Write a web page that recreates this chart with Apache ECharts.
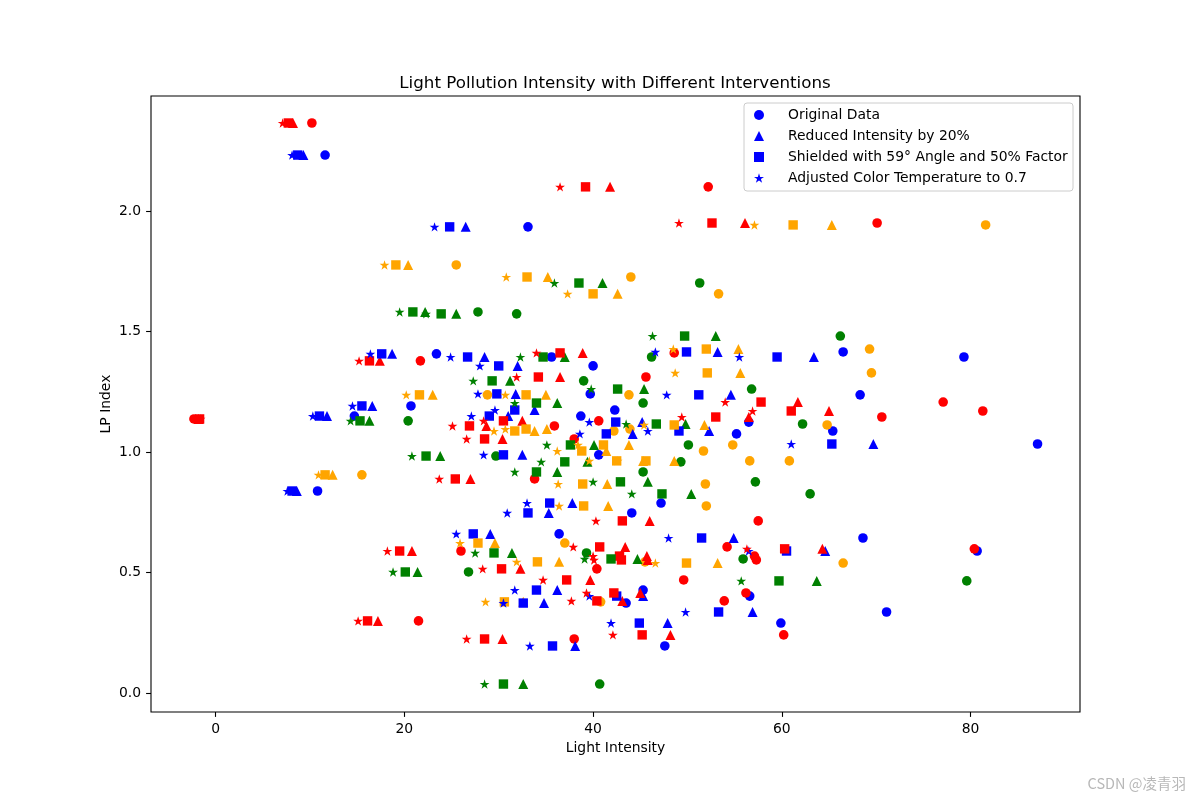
<!DOCTYPE html>
<html>
<head>
<meta charset="utf-8">
<title>Light Pollution Intensity with Different Interventions</title>
<script src="https://cdn.jsdelivr.net/npm/echarts@6/dist/echarts.min.js"></script>
<style>
  html, body { margin: 0; padding: 0; background: #fff; }
  #chart { width: 1200px; height: 800px; }
</style>
</head>
<body>
<div id="chart"></div>
<script>
// one entry per sample point, same order in every array
const lpIndex = [
  2.232, 1.934, 1.407, 1.394, 1.357, 1.415, 1.394, 1.241, 1.237, 1.174, 1.191, 1.149, 1.149, 1.124, 1.075,
  1.087, 1.033, 0.988, 0.838, 0.788, 0.747, 0.660, 0.643, 0.589, 0.427, 0.373, 0.402, 0.336, 0.290, 0.195,
  2.365, 2.100, 1.950, 1.378, 1.411, 1.311, 1.207, 1.170, 1.145, 1.129, 1.108, 1.137, 1.054, 0.888,
  0.714, 0.606, 0.598, 0.589, 0.568, 0.552, 0.515, 0.469, 0.415, 0.382, 0.299, 0.224, 0.241,
  1.942, 1.776, 1.726, 1.656, 1.427, 1.328, 1.237, 1.237, 1.112, 1.095, 1.087,
  1.029, 1.004, 0.963, 0.963, 0.905, 0.867, 0.776, 0.622, 0.539, 0.544, 0.378,
  1.701, 1.581, 1.573, 1.481, 1.394, 1.295, 1.261, 1.203, 1.129, 1.116, 1.029,
  0.983, 0.959, 0.917, 0.876, 0.826, 0.581, 0.502, 0.556, 0.465, 0.037
];
const pointColor = [
  'blue', 'blue', 'blue', 'blue', 'blue', 'blue', 'blue', 'blue', 'blue', 'blue', 'blue', 'blue', 'blue', 'blue', 'blue',
  'blue', 'blue', 'blue', 'blue', 'blue', 'blue', 'blue', 'blue', 'blue', 'blue', 'blue', 'blue', 'blue', 'blue', 'blue',
  'red', 'red', 'red', 'red', 'red', 'red', 'red', 'red', 'red', 'red', 'red', 'red', 'red', 'red',
  'red', 'red', 'red', 'red', 'red', 'red', 'red', 'red', 'red', 'red', 'red', 'red', 'red',
  'orange', 'orange', 'orange', 'orange', 'orange', 'orange', 'orange', 'orange', 'orange', 'orange', 'orange',
  'orange', 'orange', 'orange', 'orange', 'orange', 'orange', 'orange', 'orange', 'orange', 'orange', 'orange',
  'green', 'green', 'green', 'green', 'green', 'green', 'green', 'green', 'green', 'green', 'green',
  'green', 'green', 'green', 'green', 'green', 'green', 'green', 'green', 'green', 'green'
];
const originalX = [
  11.6, 33.1, 23.4, 35.6, 40.0, 66.5, 79.3, 39.7, 68.3, 42.3, 20.7, 38.7, 14.7, 56.5, 55.2,
  65.4, 87.1, 40.6, 10.8, 47.2, 44.1, 36.4, 68.6, 80.7, 45.3, 43.5, 56.6, 71.1, 59.9, 47.6,
  10.2, 52.2, 70.1, 21.7, 48.6, 45.6, 77.1, 81.3, 70.6, 40.6, 35.9, -2.3, 38.0, 33.8,
  57.5, 54.2, 80.4, 26.0, 57.1, 57.3, 40.4, 49.6, 56.2, 53.9, 21.5, 38.0, 60.2,
  81.6, 25.5, 44.0, 53.3, 69.3, 69.5, 28.8, 43.8, 64.8, 43.9, 42.2,
  54.8, 51.7, 56.6, 60.8, 15.5, 51.9, 52.0, 37.0, 66.5, 45.5, 40.8,
  51.3, 27.8, 31.9, 66.2, 46.2, 39.0, 56.8, 45.3, 20.4, 62.2, 50.1,
  29.7, 49.3, 45.3, 57.2, 63.0, 39.3, 26.8, 55.9, 79.6, 40.7
];
const reducedX = [
  9.3, 26.5, 18.7, 28.5, 32.0, 53.2, 63.4, 31.8, 54.6, 33.8, 16.6, 31.0, 11.8, 45.2, 44.2,
  52.3, 69.7, 32.5, 8.6, 37.8, 35.3, 29.1, 54.9, 64.6, 36.2, 34.8, 45.3, 56.9, 47.9, 38.1,
  8.2, 41.8, 56.1, 17.4, 38.9, 36.5, 61.7, 65.0, 56.5, 32.5, 28.7, -1.8, 30.4, 27.0,
  46.0, 43.4, 64.3, 20.8, 45.7, 45.8, 32.3, 39.7, 45.0, 43.1, 17.2, 30.4, 48.2,
  65.3, 20.4, 35.2, 42.6, 55.4, 55.6, 23.0, 35.0, 51.8, 35.1, 33.8,
  43.8, 41.4, 45.3, 48.6, 12.4, 41.5, 41.6, 29.6, 53.2, 36.4, 32.6,
  41.0, 22.2, 25.5, 53.0, 37.0, 31.2, 45.4, 36.2, 16.3, 49.8, 40.1,
  23.8, 39.4, 36.2, 45.8, 50.4, 31.4, 21.4, 44.7, 63.7, 32.6
];
const shieldedX = [
  8.7, 24.8, 17.6, 26.7, 30.0, 49.9, 59.5, 29.8, 51.2, 31.7, 15.5, 29.0, 11.0, 42.4, 41.4,
  49.1, 65.3, 30.5, 8.1, 35.4, 33.1, 27.3, 51.5, 60.5, 34.0, 32.6, 42.5, 53.3, 44.9, 35.7,
  7.7, 39.2, 52.6, 16.3, 36.5, 34.2, 57.8, 61.0, 53.0, 30.5, 26.9, -1.7, 28.5, 25.4,
  43.1, 40.7, 60.3, 19.5, 42.8, 43.0, 30.3, 37.2, 42.2, 40.4, 16.1, 28.5, 45.2,
  61.2, 19.1, 33.0, 40.0, 52.0, 52.1, 21.6, 32.9, 48.6, 32.9, 31.7,
  41.1, 38.8, 42.5, 45.6, 11.6, 38.9, 39.0, 27.8, 49.9, 34.1, 30.6,
  38.5, 20.9, 23.9, 49.7, 34.7, 29.3, 42.6, 34.0, 15.3, 46.7, 37.6,
  22.3, 37.0, 34.0, 42.9, 47.3, 29.5, 20.1, 41.9, 59.7, 30.5
];
const adjustedX = [
  8.1, 23.2, 16.4, 24.9, 28.0, 46.6, 55.5, 27.8, 47.8, 29.6, 14.5, 27.1, 10.3, 39.6, 38.6,
  45.8, 61.0, 28.4, 7.6, 33.0, 30.9, 25.5, 48.0, 56.5, 31.7, 30.5, 39.6, 49.8, 41.9, 33.3,
  7.1, 36.5, 49.1, 15.2, 34.0, 31.9, 54.0, 56.9, 49.4, 28.4, 25.1, -1.6, 26.6, 23.7,
  40.3, 37.9, 56.3, 18.2, 40.0, 40.1, 28.3, 34.7, 39.3, 37.7, 15.1, 26.6, 42.1,
  57.1, 17.9, 30.8, 37.3, 48.5, 48.7, 20.2, 30.7, 45.4, 30.7, 29.5,
  38.4, 36.2, 39.6, 42.6, 10.9, 36.3, 36.4, 25.9, 46.6, 31.9, 28.6,
  35.9, 19.5, 22.3, 46.3, 32.3, 27.3, 39.8, 31.7, 14.3, 43.5, 35.1,
  20.8, 34.5, 31.7, 40.0, 44.1, 27.5, 18.8, 39.1, 55.7, 28.5
];
const xTicks = [0, 20, 40, 60, 80];
const yTicks = [0, 0.5, 1.0, 1.5, 2.0];

const colorHex = { blue: '#0000ff', red: '#ff0000', green: '#008000', orange: '#ffa500' };
const starPath = 'path://M50,0L61.23,34.55L97.55,34.55L68.17,55.9L79.39,90.45L50,69.1L20.61,90.45L31.83,55.9L2.45,34.55L38.77,34.55Z';
const font = 'DejaVu Sans';

const layers = [
  { name: 'Original Data', xs: originalX, symbol: 'circle', size: 9.6 },
  { name: 'Reduced Intensity by 20%', xs: reducedX, symbol: 'triangle', size: [10, 10] },
  { name: 'Shielded with 59° Angle and 50% Factor', xs: shieldedX, symbol: 'rect', size: 9.4 },
  { name: 'Adjusted Color Temperature to 0.7', xs: adjustedX, symbol: starPath, size: [9.8, 9.4] }
];

const series = layers.map(function (l) {
  return {
    name: l.name,
    type: 'scatter',
    symbol: l.symbol,
    symbolSize: l.size,
    itemStyle: { color: colorHex.blue, opacity: 1 },
    emphasis: { disabled: true },
    data: l.xs.map(function (x, i) {
      return { value: [x, lpIndex[i]], itemStyle: { color: colorHex[pointColor[i]] } };
    })
  };
});

const chart = echarts.init(document.getElementById('chart'), null, { renderer: 'canvas' });
const option = {
  animation: false,
  backgroundColor: '#ffffff',
  title: {
    text: 'Light Pollution Intensity with Different Interventions',
    left: 610,
    top: 70,
    textAlign: 'center',
    textStyle: { fontFamily: font, fontSize: 16.7, fontWeight: 'normal', color: '#000' }
  },
  grid: {
    left: 151, top: 96, width: 929, height: 616,
    show: true, borderColor: '#000', borderWidth: 1.1, backgroundColor: 'transparent'
  },
  legend: {
    orient: 'vertical',
    left: 754,
    top: 108,
    itemWidth: 10,
    itemHeight: 10,
    itemGap: 7,
    symbolKeepAspect: true,
    padding: 0,
    formatter: function (name) { return '{gap|}' + name; },
    textStyle: {
      fontFamily: font, fontSize: 13.9, color: '#000', lineHeight: 14,
      rich: { gap: { width: 19 } }
    },
    data: layers.map(function (l) { return l.name; })
  },
  xAxis: {
    type: 'value',
    min: -6.85,
    max: 91.6,
    name: 'Light Intensity',
    nameLocation: 'middle',
    nameGap: 29,
    nameTextStyle: { fontFamily: font, fontSize: 13.9, color: '#000' },
    axisLine: { show: false, onZero: false },
    axisTick: { show: true, length: 4.9, lineStyle: { color: '#000', width: 1.1 }, customValues: xTicks },
    axisLabel: { margin: 10, fontFamily: font, fontSize: 13.9, color: '#000', customValues: xTicks },
    splitLine: { show: false }
  },
  yAxis: {
    type: 'value',
    min: -0.079,
    max: 2.477,
    name: 'LP Index',
    nameLocation: 'middle',
    nameGap: 38,
    nameMoveOverlap: false,
    nameTextStyle: { fontFamily: font, fontSize: 13.9, color: '#000' },
    axisLine: { show: false, onZero: false },
    axisTick: { show: true, length: 4.9, lineStyle: { color: '#000', width: 1.1 }, customValues: yTicks },
    axisLabel: {
      margin: 10, fontFamily: font, fontSize: 13.9, color: '#000', customValues: yTicks,
      formatter: function (v) { return v.toFixed(1); }
    },
    splitLine: { show: false }
  },
  graphic: [
    {
      type: 'rect',
      z: 3,
      shape: { x: 744, y: 103, width: 329, height: 88, r: 3 },
      style: { fill: 'rgba(255,255,255,0.8)', stroke: '#cccccc', lineWidth: 1 }
    },
    {
      type: 'text',
      z: 5,
      style: {
        text: 'CSDN @凌青羽', x: 1186, y: 783, align: 'right', verticalAlign: 'middle',
        fill: '#b8b8b8', fontSize: 14.5, fontFamily: 'Noto Sans CJK SC'
      }
    }
  ],
  series: series
};
chart.setOption(option);
</script>
</body>
</html>
